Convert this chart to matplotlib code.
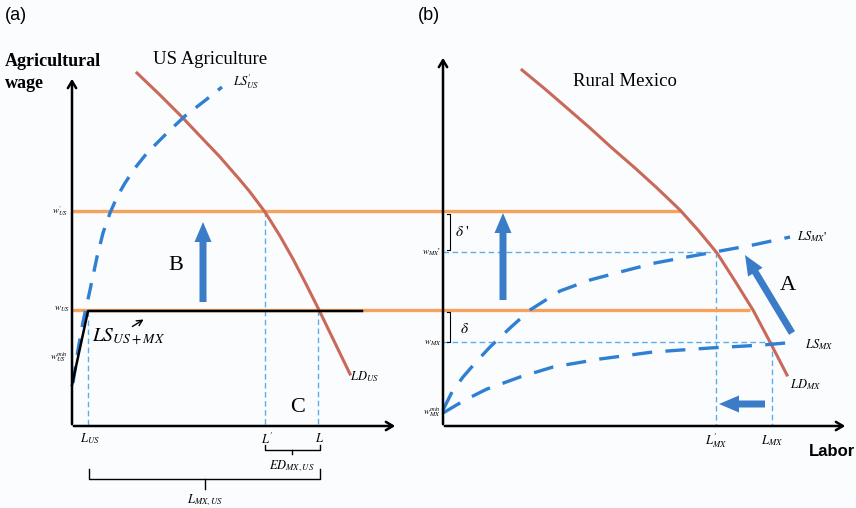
import numpy as np
import matplotlib
matplotlib.use("Agg")
import matplotlib.pyplot as plt

plt.rcParams['mathtext.fontset'] = 'stix'
plt.rcParams['font.family'] = ['Liberation Serif', 'DejaVu Serif']

# --- diagram data (pixel-like diagram units, y grows downward) ---
# panel (a): US agriculture
ld_us_x = [137, 160, 182, 200, 220, 240, 250, 265, 280, 293, 306, 319, 335, 350]
ld_us_y = [73, 95, 117, 136, 157, 180, 192, 212, 236, 259, 284, 310, 343, 374]
ls_us_prime_x = [73, 78, 83, 90, 97, 103, 110, 117, 125, 135, 147, 167, 185, 207, 222]
ls_us_prime_y = [383, 350, 322, 290, 257, 233, 213, 197, 183, 168, 153, 133, 116, 99, 87]
ls_us_mx_x = [72, 88, 362]
ls_us_mx_y = [385, 311, 311]

# panel (b): rural Mexico
ld_mx_x = [522, 545, 567, 590, 612, 635, 657, 680, 698, 717, 735, 753, 770, 787]
ld_mx_y = [70, 89, 108, 128, 148, 168, 188, 210, 230, 253, 281, 310, 342, 375]
ls_mx_prime_x = [443, 452, 463, 476, 490, 510, 530, 560, 590, 620, 655, 687, 720, 753, 790]
ls_mx_prime_y = [410, 392, 377, 362, 347, 328, 310, 291, 280, 272, 263, 257, 251, 245, 237]
ls_mx_x = [443, 465, 487, 520, 553, 600, 653, 710, 763, 797]
ls_mx_y = [413, 400, 389, 377, 367, 359, 352, 348, 345, 342]

# wage levels (orange) and their extents
wage_levels = [211, 310]
wage_right_ends = [680, 750]

# labor levels
labor_us = [88, 265, 318]
labor_us_tops = [311, 211, 310]
labor_us_labels = [r'$L_{US}$', r"$L^{\prime}$", r'$L$']
labor_mx = [716, 772]
labor_mx_tops = [252, 342]
labor_mx_labels = [r"$L_{MX}^{\prime}$", r'$L_{MX}$']
wage_mx = [252, 342]

# axes origins
orig_a = (72, 426)
orig_b = (443, 426)

RED = '#c9695a'
BLUE = '#2f7fd3'
LIGHT = '#5aaeee'
ORANGE = '#f5a25c'
ARROW = '#3a7cc8'

fig = plt.figure(figsize=(8.56, 5.08), dpi=100)
fig.patch.set_facecolor('#fbfcfe')
ax = fig.add_axes([0, 0, 1, 1])
ax.set_xlim(0, 856)
ax.set_ylim(508, 0)
ax.axis('off')

# orange wage lines
for y, xr in zip(wage_levels, wage_right_ends):
    ax.plot([orig_a[0], xr], [y, y], color=ORANGE, lw=2.4, zorder=2, solid_capstyle='butt')

# thin dashed guide lines
for x, top in zip(labor_us, labor_us_tops):
    ax.plot([x, x], [top, orig_a[1]], color=LIGHT, lw=1, ls=(0, (4, 2.5)), zorder=1)
for x, top in zip(labor_mx, labor_mx_tops):
    ax.plot([x, x], [top, orig_b[1]], color=LIGHT, lw=1, ls=(0, (4, 2.5)), zorder=1)
for y, xr in zip(wage_mx, labor_mx):
    ax.plot([orig_b[0], xr], [y, y], color=LIGHT, lw=1, ls=(0, (4, 2.5)), zorder=1)

# curves
ax.plot(ld_us_x, ld_us_y, color=RED, lw=2.2, zorder=3)
ax.plot(ld_mx_x, ld_mx_y, color=RED, lw=2.2, zorder=3)
ax.plot(ls_us_prime_x, ls_us_prime_y, color=BLUE, lw=2.4, ls=(0, (5, 3.5)), zorder=3)
ax.plot(ls_mx_prime_x, ls_mx_prime_y, color=BLUE, lw=2.4, ls=(0, (6, 4)), zorder=3)
ax.plot(ls_mx_x, ls_mx_y, color=BLUE, lw=2.4, ls=(0, (6, 4)), zorder=3)
ax.plot(ls_us_mx_x, ls_us_mx_y, color='black', lw=1.8, zorder=4)

# coordinate axes with arrow heads
for (ox, oy), top, right in [(orig_a, 76, 398), (orig_b, 55, 848)]:
    ax.annotate('', xy=(ox, top), xytext=(ox, oy + 1),
                arrowprops=dict(arrowstyle='->,head_length=0.5,head_width=0.3', lw=1.8, color='black'))
    ax.annotate('', xy=(right, oy), xytext=(ox - 1, oy),
                arrowprops=dict(arrowstyle='->,head_length=0.5,head_width=0.3', lw=1.8, color='black'))

# thick blue arrows
arrow_kw = dict(width=7, head_width=17, head_length=20, length_includes_head=True,
                color=ARROW, zorder=5, lw=0)
ax.arrow(203, 302, 0, -80, **arrow_kw)
ax.arrow(503, 300, 0, -87, **arrow_kw)
ax.arrow(792, 333, -47, -78, **arrow_kw)
ax.arrow(765, 404, -46, 0, **arrow_kw)

# brackets (delta)
for top, bot in [(214, 250), (312, 342)]:
    ax.plot([447, 450, 450, 447], [top, top, bot, bot], color='black', lw=0.8)

# braces under panel (a)
ax.plot([265, 265, 320, 320], [445, 450, 450, 445], color='black', lw=1)
ax.plot([292, 292], [450, 454], color='black', lw=1)
ax.plot([89, 89, 320, 320], [469, 479, 479, 469], color='black', lw=1)
ax.plot([205, 205], [479, 489], color='black', lw=1)

# texts
sans = ['Liberation Sans', 'DejaVu Sans']
ax.text(5, 15, '(a)', fontsize=13, family=sans, va='center', ha='left')
ax.text(418, 15, '(b)', fontsize=13, family=sans, va='center', ha='left')
ax.text(5, 61, 'Agricultural', fontsize=13, fontweight='bold', va='center', ha='left')
ax.text(5, 83, 'wage', fontsize=13, fontweight='bold', va='center', ha='left')
ax.text(153, 60, 'US Agriculture', fontsize=13.5, va='center', ha='left')
ax.text(573, 82, 'Rural Mexico', fontsize=13.5, va='center', ha='left')
ax.text(855, 452, 'Labor', fontsize=12, fontweight='bold', family=sans, va='center', ha='right')

ax.text(176, 266, 'B', fontsize=16, va='center', ha='center')
ax.text(298, 408, 'C', fontsize=16, va='center', ha='center')
ax.text(788, 285, 'A', fontsize=16, va='center', ha='center')

ax.text(233, 82, r"$LS_{US}^{\prime}$", fontsize=9, va='center', ha='left')
ax.text(350, 377, r'$LD_{US}$', fontsize=9, va='center', ha='left')
ax.text(790, 385, r'$LD_{MX}$', fontsize=9, va='center', ha='left')
ax.text(797, 237, r"$LS_{MX}$'", fontsize=9, va='center', ha='left')
ax.text(805, 345, r'$LS_{MX}$', fontsize=9, va='center', ha='left')
ax.text(92, 337, r'$LS_{US+MX}$', fontsize=14, va='center', ha='left')
ax.annotate('', xy=(146, 318), xytext=(130, 328),
            arrowprops=dict(arrowstyle='->', lw=1, color='black'))

ax.text(455, 232, r"$\delta$ '", fontsize=11, va='center', ha='left')
ax.text(460, 329, r'$\delta$', fontsize=11, va='center', ha='left')

ax.text(68, 211, r"$w_{US}^{\prime}$", fontsize=6.5, va='center', ha='right')
ax.text(70, 309, r'$w_{US}$', fontsize=6.5, va='center', ha='right')
ax.text(68, 357, r'$w^{min}_{US}$', fontsize=6.5, va='center', ha='right')
ax.text(441, 252, r"$w_{MX}$'", fontsize=6.5, va='center', ha='right')
ax.text(441, 343, r'$w_{MX}$', fontsize=6.5, va='center', ha='right')
ax.text(441, 412, r'$w^{min}_{MX}$', fontsize=6.5, va='center', ha='right')

for x, lab in zip(labor_us, labor_us_labels):
    ax.text(x + 2, 439, lab, fontsize=9, va='center', ha='center')
for x, lab in zip(labor_mx, labor_mx_labels):
    ax.text(x, 441, lab, fontsize=9, va='center', ha='center')
ax.text(292, 466, r'$ED_{MX,US}$', fontsize=9, va='center', ha='center')
ax.text(205, 500, r'$L_{MX,US}$', fontsize=9, va='center', ha='center')

fig.savefig('out.png', dpi=100, facecolor=fig.get_facecolor())
